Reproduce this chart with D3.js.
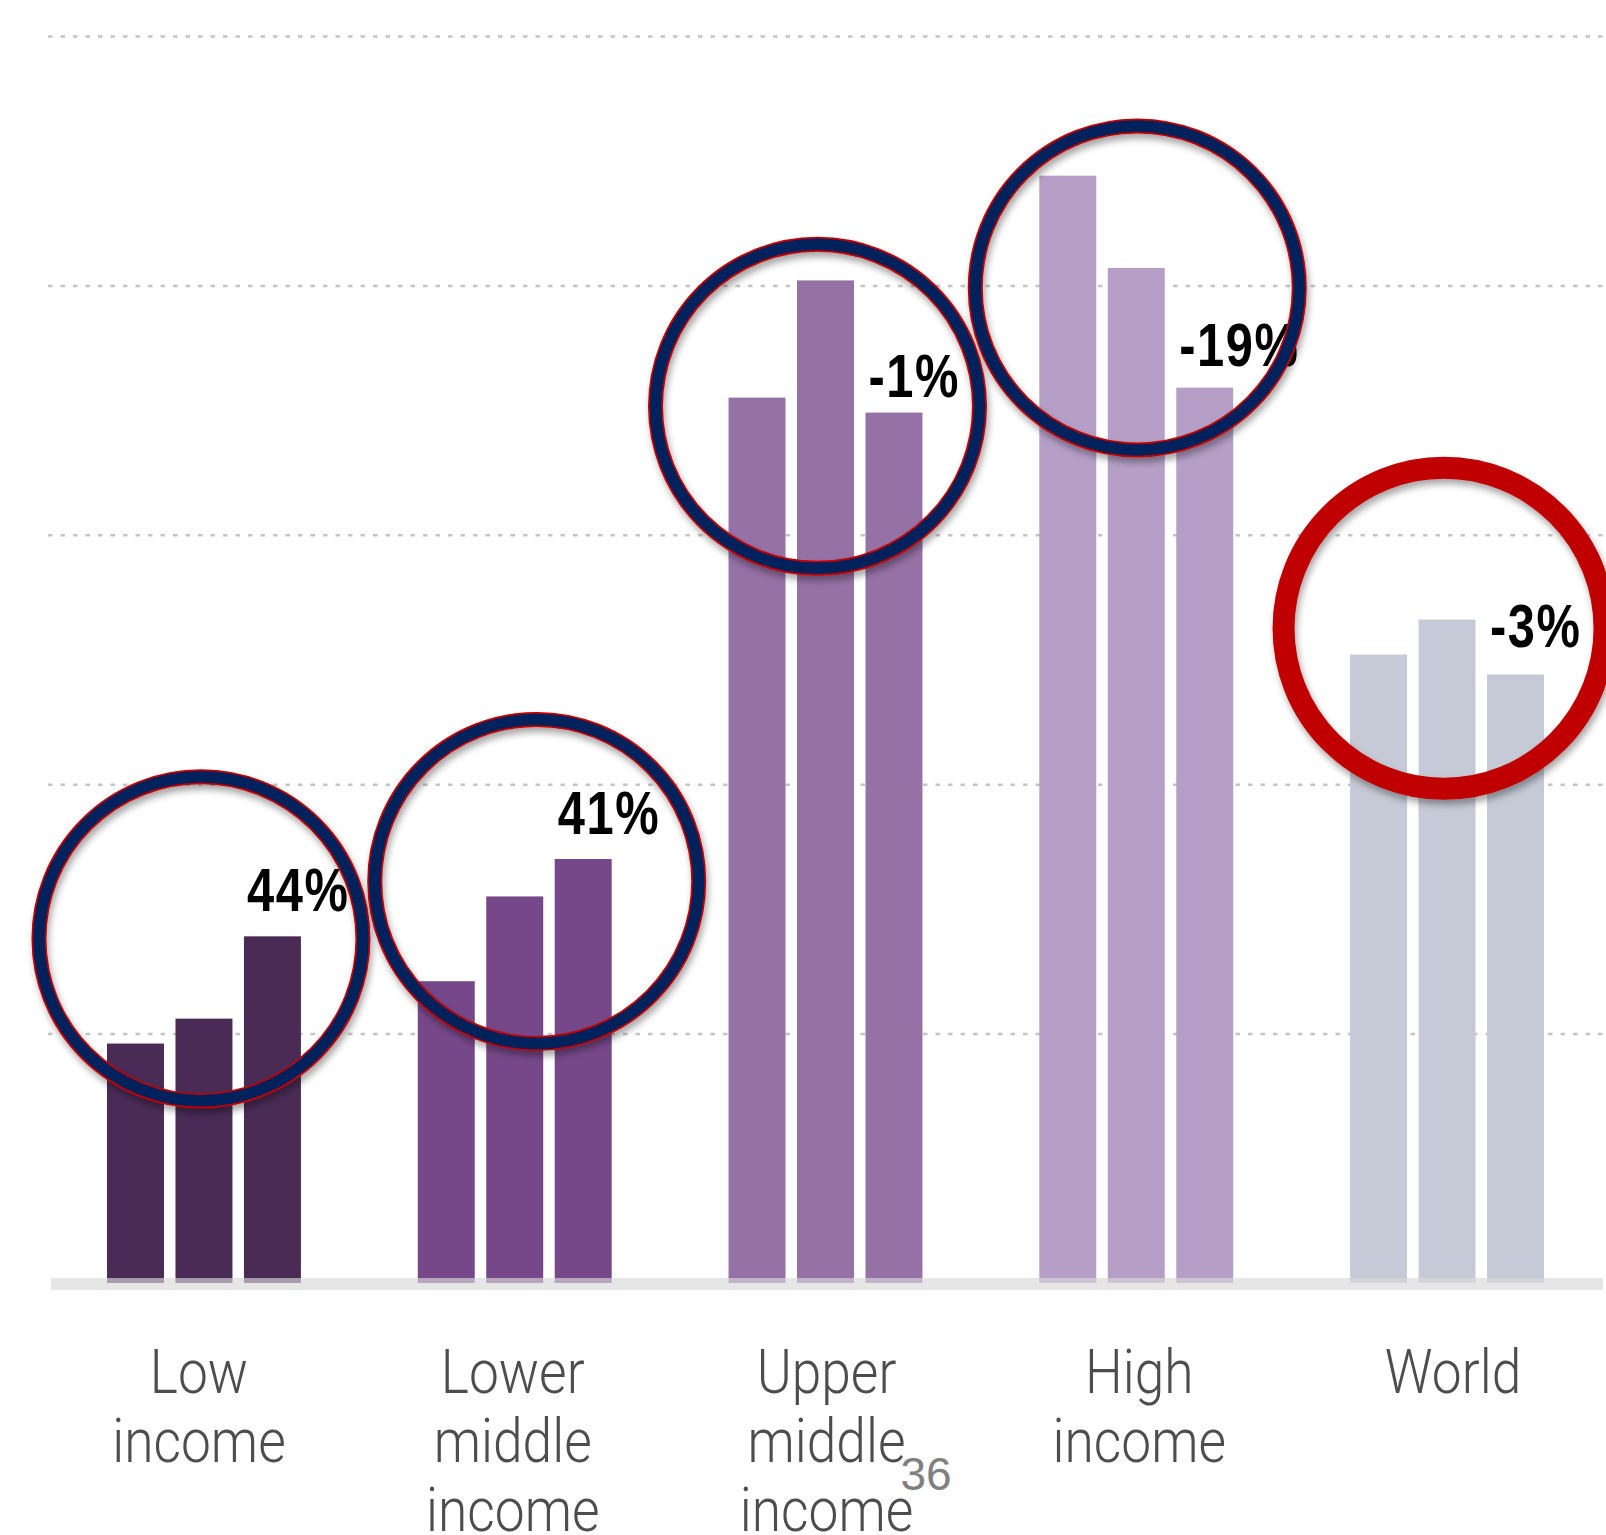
<!DOCTYPE html>
<html>
<head>
<meta charset="utf-8">
<script src="https://cdn.jsdelivr.net/npm/d3@7"></script>
<style>
  html, body { margin: 0; padding: 0; background: #ffffff; }
  svg { display: block; }
</style>
</head>
<body>
<svg id="chart" width="1606" height="1535"></svg>
<script>
// ---- data ----
const categories = ["Low income", "Lower middle income", "Upper middle income", "High income", "World"];
const categoryLines = [["Low", "income"], ["Lower", "middle", "income"], ["Upper", "middle", "income"], ["High", "income"], ["World"]];
const series = ["first", "second", "third"];
const firstValues  = [0.96, 1.21, 3.55, 4.44, 2.52];
const secondValues = [1.06, 1.55, 4.02, 4.07, 2.66];
const thirdValues  = [1.39, 1.70, 3.49, 3.59, 2.44];
const changeLabels = ["44%", "41%", "-1%", "-19%", "-3%"];
const gridValues = [1, 2, 3, 4, 5];
const pageNumber = "36";

// ---- layout / styling ----
const W = 1606, H = 1535;
const groupColors = ["#4a2b56", "#774889", "#9671a5", "#b59fc6", "#c5cad6"];
// highlight rings: centre height in value units, horizontal nudge in px
const ringCentres = [1.38, 1.61, 3.515, 3.99, 2.625];
const ringNudge = [-3, 22, -8, 1, -3];
const ringStyle = ["navy", "navy", "navy", "navy", "red"];
const labelLift = [25, 25, 16, 22, 27];
const axisNudge = [-5, -2, 1, 3, 6];

const svg = d3.select("#chart");

const defs = svg.append("defs");
const shadow = defs.append("filter").attr("id", "ringShadow")
  .attr("x", "-20%").attr("y", "-20%").attr("width", "140%").attr("height", "140%");
shadow.append("feDropShadow")
  .attr("dx", 2).attr("dy", 5).attr("stdDeviation", 3.5)
  .attr("flood-color", "#000").attr("flood-opacity", 0.35);

const y = d3.scaleLinear().domain([0, 5]).range([1283, 36]);
const x0 = d3.scaleBand().domain(categories).range([107, 1544]).paddingInner(0.376).paddingOuter(0);
const x1 = d3.scaleBand().domain(series).range([0, x0.bandwidth()]).paddingInner(0.168);

// dotted gridlines
const grid = svg.append("g")
  .attr("transform", "translate(48,0)")
  .call(d3.axisLeft(y).tickValues(gridValues).tickSize(-(W - 48)).tickFormat(""));
grid.select(".domain").remove();
grid.selectAll(".tick line")
  .attr("stroke", "#c4c4c4")
  .attr("stroke-width", 2.5)
  .attr("stroke-dasharray", "4.5 8");

// bars
const rows = categories.map((c, i) => ({
  category: c, i,
  values: [firstValues[i], secondValues[i], thirdValues[i]]
}));

const groups = svg.append("g").selectAll("g.group")
  .data(rows).join("g")
  .attr("class", "group")
  .attr("transform", d => `translate(${x0(d.category)},0)`);

groups.selectAll("rect")
  .data(d => d.values.map((v, k) => ({ key: series[k], v, i: d.i })))
  .join("rect")
  .attr("x", d => x1(d.key))
  .attr("y", d => y(d.v))
  .attr("width", x1.bandwidth())
  .attr("height", d => y(0) - y(d.v))
  .attr("fill", d => groupColors[d.i]);

// baseline band
svg.append("rect")
  .attr("x", 51).attr("y", y(0) - 5)
  .attr("width", 1552).attr("height", 12)
  .attr("fill", "#d8d8d8").attr("opacity", 0.65);

// change labels above the third bar of each group (narrowed bold face)
svg.append("g").selectAll("text")
  .data(rows).join("text")
  .attr("transform", d => `translate(${x0(d.category) + x1("third") + 3},${y(thirdValues[d.i]) - labelLift[d.i]}) scale(0.8,1)`)
  .attr("font-family", "'Liberation Sans', Arial, sans-serif")
  .attr("font-weight", "bold")
  .attr("font-size", 61)
  .attr("letter-spacing", 2)
  .attr("fill", "#000")
  .text(d => changeLabels[d.i]);

// highlight rings
const rings = svg.append("g").selectAll("g.ring")
  .data(rows).join("g")
  .attr("class", "ring")
  .attr("filter", "url(#ringShadow)")
  .attr("transform", d => `translate(${x0(d.category) + x0.bandwidth() / 2 + ringNudge[d.i]},${y(ringCentres[d.i])})`);

rings.filter(d => ringStyle[d.i] === "navy").each(function () {
  const g = d3.select(this);
  g.append("circle").attr("r", 162).attr("fill", "none")
    .attr("stroke", "#c00000").attr("stroke-width", 15);
  g.append("circle").attr("r", 162).attr("fill", "none")
    .attr("stroke", "#04205c").attr("stroke-width", 11.5);
});
rings.filter(d => ringStyle[d.i] === "red")
  .append("circle").attr("r", 160.5).attr("fill", "none")
  .attr("stroke", "#c00000").attr("stroke-width", 22);

// category axis (thin, condensed lettering)
const xAxis = svg.append("g")
  .attr("transform", "translate(0,1393)")
  .call(d3.axisBottom(x0).tickSize(0));
xAxis.select(".domain").remove();
xAxis.selectAll(".tick text")
  .attr("y", 0).attr("dy", null)
  .attr("transform", c => `translate(${axisNudge[categories.indexOf(c)]},0) scale(0.86,1)`)
  .attr("font-family", "Roboto, 'Liberation Sans', sans-serif")
  .attr("font-weight", 300)
  .attr("font-size", 62)
  .attr("fill", "#4d4d4d")
  .text(null)
  .each(function (c) {
    const lines = categoryLines[categories.indexOf(c)];
    d3.select(this).selectAll("tspan").data(lines).join("tspan")
      .attr("x", 0)
      .attr("dy", (l, k) => k === 0 ? 0 : 69)
      .text(l => l);
  });

// page number
svg.append("text")
  .attr("x", 926).attr("y", 1490)
  .attr("text-anchor", "middle")
  .attr("font-family", "'Liberation Sans','Open Sans',sans-serif")
  .attr("font-size", 46)
  .attr("fill", "#808080")
  .text(pageNumber);
</script>
</body>
</html>
